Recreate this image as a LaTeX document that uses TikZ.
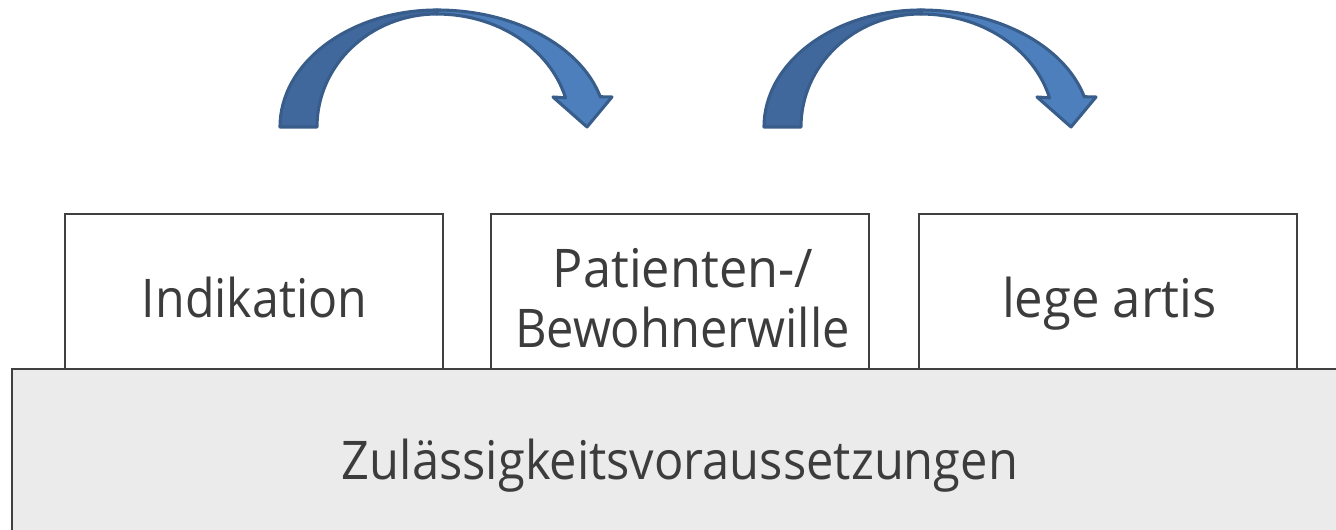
\documentclass[tikz,border=0pt]{standalone}
\usepackage{fontspec}
\usepackage{graphicx}
\setmainfont{Open Sans}
\definecolor{txtgray}{HTML}{3C3C3C}
\definecolor{boxline}{HTML}{404040}
\definecolor{basefill}{HTML}{EBEBEB}
\definecolor{arrdark}{HTML}{41689D}
\definecolor{arrlight}{HTML}{4D7FBC}
\definecolor{arrline}{HTML}{385D8A}
\newcommand{\fitw}[2]{\resizebox{#1}{\height}{#2}}
\begin{document}
\begin{tikzpicture}[x=0.75pt,y=-0.75pt,
  lbl/.style={text=txtgray, inner sep=0pt, font=\fontsize{40}{48}\selectfont},
  topbox/.style={draw=boxline, line width=1.6pt, fill=white, inner sep=0pt, outer sep=0pt,
    minimum width=283.5pt, minimum height=116.25pt},
  basebox/.style={draw=boxline, line width=1.6pt, fill=basefill, inner sep=0pt, outer sep=0pt,
    minimum width=1000.5pt, minimum height=128.25pt},
  arrshape/.style={draw=arrline, line width=2.3pt, line join=round},
  curvedarr/.pic={
    \path[arrshape, fill=arrlight]
      (437,10) arc[start angle=270, end angle=345, x radius=169, y radius=117]
      -- (612,97) -- (587,127) -- (553,97) -- (565.5,97.8)
      arc[start angle=345, end angle=270, x radius=133, y radius=113] -- cycle;
    \path[arrshape, fill=arrdark]
      (280,127) arc[start angle=180, end angle=270, x radius=157, y radius=117]
      -- (437,14) arc[start angle=270, end angle=180, x radius=120, y radius=113] -- cycle;
  }]
\useasboundingbox (0,0) rectangle (1336,530);
% base
\node[basebox, anchor=north west] (base) at (12,369) {};
\node[lbl, anchor=base] (zul) at (680,480) {\fitw{507pt}{Zulässigkeitsvoraussetzungen}};
% top boxes
\node[topbox, anchor=north west] (b1) at (65,214) {};
\node[topbox, anchor=north west] (b2) at (491,214) {};
\node[topbox, anchor=north west] (b3) at (919,214) {};
\node[lbl, anchor=base] (t1) at (254.5,318) {\fitw{168.75pt}{Indikation}};
\node[lbl, anchor=base] (t2a) at (683,288) {\fitw{195pt}{Patienten-/}};
\node[lbl, anchor=base] (t2b) at (682.5,348) {\fitw{251.25pt}{Bewohnerwille}};
\node[lbl, anchor=base] (t3) at (1109.5,318) {\fitw{161.25pt}{lege artis}};
% arrows
\pic at (0,0) {curvedarr};
\pic at (484,0) {curvedarr};
\end{tikzpicture}
\end{document}
